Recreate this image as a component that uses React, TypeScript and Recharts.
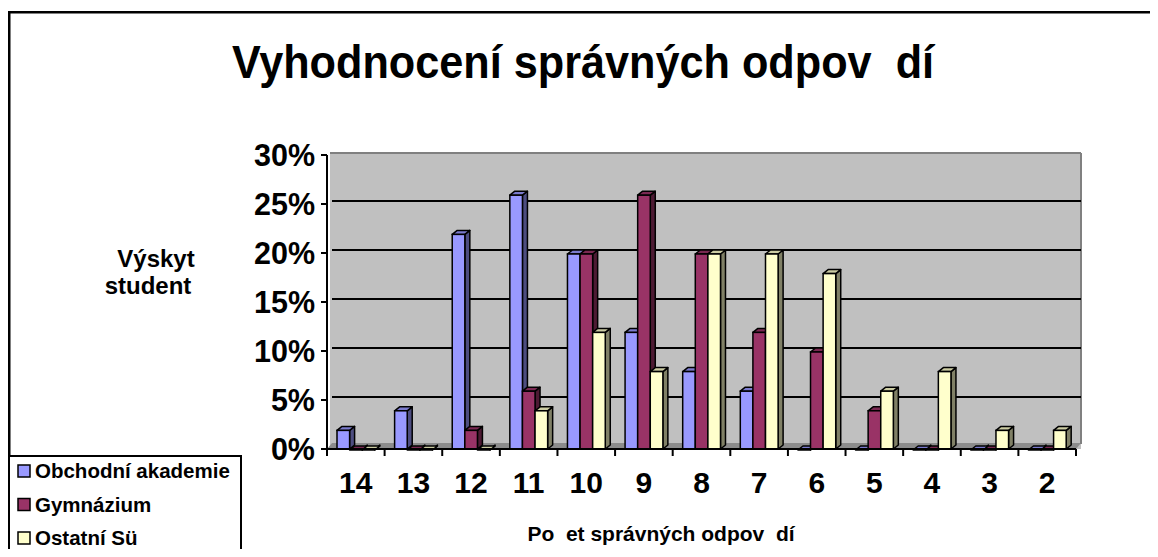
import React from 'react';
import { BarChart, Bar, XAxis, YAxis, CartesianGrid } from 'recharts';

const categories = ['14', '13', '12', '11', '10', '9', '8', '7', '6', '5', '4', '3', '2'];
const obchodniAkademie = [2, 4, 22, 26, 20, 12, 8, 6, 0, 0, 0, 0, 0];
const gymnazium = [0, 0, 2, 6, 20, 26, 20, 12, 10, 4, 0, 0, 0];
const ostatniSu = [0, 0, 0, 4, 12, 8, 20, 20, 18, 6, 8, 2, 2];
const yTicks = [0, 5, 10, 15, 20, 25, 30];

const seriesNames = ['Obchodní akademie', 'Gymnázium', 'Ostatní Sü'];
const seriesKeys = ['oa', 'gym', 'ost'];
const fronts = ['#9999FF', '#993366', '#FFFFCC'];
const sides = ['#4D4D80', '#4D1A33', '#808066'];
const tops = ['#7A7ACC', '#7A2952', '#CCCCA3'];

const title = 'Vyhodnocení správných odpov  dí';
const yLabel1 = 'Výskyt';
const yLabel2 = 'student';
const xLabel = 'Po  et správných odpov  dí';

const data = categories.map((c, i) => ({
  cat: c,
  oa: obchodniAkademie[i],
  gym: gymnazium[i],
  ost: ostatniSu[i],
}));

const W = 1158;
const H = 557;
const PLOT_L = 327;
const PLOT_R = 1076;
const PLOT_T = 155;
const PLOT_B = 449;
const DX = 5;
const DY = 4;
const BAND = (PLOT_R - PLOT_L) / categories.length;
const FONT = '"Liberation Sans", Arial, sans-serif';

const make3DBar = (idx: number) => (props: any) => {
  const { x, y, width, height } = props;
  if (x == null || y == null) return <g />;
  const w = width;
  const bottom = y + height;
  const ft = y + 1;
  const bt = y - 3;
  return (
    <g>
      <polygon
        points={`${x + w},${ft} ${x + w + DX},${bt} ${x + w + DX},${bottom - DY} ${x + w},${bottom}`}
        fill={sides[idx]}
        stroke="#000"
        strokeWidth={1.5}
        strokeLinejoin="round"
      />
      <polygon
        points={`${x},${ft} ${x + DX},${bt} ${x + w + DX},${bt} ${x + w},${ft}`}
        fill={tops[idx]}
        stroke="#000"
        strokeWidth={1.5}
        strokeLinejoin="round"
      />
      <rect x={x} y={ft} width={w} height={Math.max(0, bottom - ft)} fill={fronts[idx]} stroke="#000" strokeWidth={1.5} />
    </g>
  );
};

const XTick = (props: any) => {
  const { x, payload } = props;
  const left = x - BAND / 2;
  const isLast = payload && payload.value === categories[categories.length - 1];
  return (
    <g>
      <line x1={left} x2={left} y1={PLOT_B} y2={PLOT_B + 7} stroke="#000" strokeWidth={2} />
      {isLast && <line x1={x + BAND / 2} x2={x + BAND / 2} y1={PLOT_B} y2={PLOT_B + 7} stroke="#000" strokeWidth={2} />}
      <text x={x} y={PLOT_B + 44} textAnchor="middle" fontFamily={FONT} fontWeight="bold" fontSize={30} fill="#000">
        {payload.value}
      </text>
    </g>
  );
};

const gridLine = (props: any) => {
  const { x1, x2, y1 } = props;
  if (Math.abs(y1 - PLOT_T) < 1 || Math.abs(y1 - PLOT_B) < 1) return <g key={props.key} />;
  return <line key={props.key} x1={x1 + DX} x2={x2 + DX} y1={y1 - 3} y2={y1 - 3} stroke="#000" strokeWidth={2} />;
};

export default function App() {
  return (
    <div style={{ position: 'relative', margin: -8, width: W, height: H, background: '#fff', overflow: 'hidden' }}>
      <svg width={W} height={H} style={{ position: 'absolute', left: 0, top: 0 }}>
        <rect x={PLOT_L + 3} y={PLOT_T - 2} width={PLOT_R + DX - PLOT_L - 3} height={PLOT_B - PLOT_T + 2} fill="#C0C0C0" />
        <polygon
          points={`${PLOT_L},${PLOT_B} ${PLOT_L + DX},${PLOT_B - 6} ${PLOT_R + DX},${PLOT_B - 6} ${PLOT_R},${PLOT_B}`}
          fill="#8C8C8C"
        />
        <line x1={PLOT_L + 3} x2={PLOT_R + DX} y1={PLOT_T - 2} y2={PLOT_T - 2} stroke="#808080" strokeWidth={2} />
        <line x1={PLOT_R + DX} x2={PLOT_R + DX} y1={PLOT_T - 2} y2={PLOT_B - 5} stroke="#808080" strokeWidth={2} />
      </svg>
      <div style={{ position: 'absolute', left: 0, top: 0 }}>
        <BarChart
          width={W}
          height={H}
          data={data}
          margin={{ top: PLOT_T, right: W - PLOT_R, bottom: H - PLOT_B - 60, left: PLOT_L - 80 }}
          barGap={0}
          barSize={12.6}
        >
          <CartesianGrid vertical={false} horizontal={gridLine as any} fill="none" />
          <XAxis
            dataKey="cat"
            interval={0}
            height={60}
            tickLine={false}
            tickSize={0}
            axisLine={{ stroke: '#000', strokeWidth: 2 }}
            tick={<XTick />}
          />
          <YAxis
            width={80}
            domain={[0, 30]}
            ticks={yTicks}
            interval={0}
            tickFormatter={(v: number) => `${v}%`}
            tickSize={6}
            tickMargin={6}
            tickLine={{ stroke: '#000', strokeWidth: 2 }}
            axisLine={{ stroke: '#000', strokeWidth: 2 }}
            tick={{ fontFamily: FONT, fontWeight: 'bold', fontSize: 30.5, fill: '#000' }}
          />
          {seriesKeys.map((k, i) => (
            <Bar key={k} dataKey={k} name={seriesNames[i]} fill={fronts[i]} isAnimationActive={false} shape={make3DBar(i)} />
          ))}
        </BarChart>
      </div>
      <svg width={W} height={H} style={{ position: 'absolute', left: 0, top: 0, pointerEvents: 'none' }}>
        <rect x={9.25} y={12.25} width={1300} height={700} fill="none" stroke="#000" strokeWidth={2.5} />
        <text
          transform="translate(583,78) scale(0.94,1)"
          x={0}
          y={0}
          textAnchor="middle"
          fontFamily={FONT}
          fontWeight="bold"
          fontSize={46}
          fill="#000"
          style={{ whiteSpace: 'pre' }}
        >
          {title}
        </text>
        <text x={156} y={267} textAnchor="middle" fontFamily={FONT} fontWeight="bold" fontSize={24} fill="#000">
          {yLabel1}
        </text>
        <text x={148} y={294} textAnchor="middle" fontFamily={FONT} fontWeight="bold" fontSize={24} fill="#000">
          {yLabel2}
        </text>
        <text x={661} y={541} textAnchor="middle" fontFamily={FONT} fontWeight="bold" fontSize={21} fill="#000" style={{ whiteSpace: 'pre' }}>
          {xLabel}
        </text>
        <rect x={9} y={456} width={232} height={96} fill="#fff" stroke="#000" strokeWidth={2} />
        {seriesNames.map((n, i) => {
          const cy = 471 + i * 33.5;
          return (
            <g key={n}>
              <rect x={18} y={cy - 6} width={12} height={12} fill={fronts[i]} stroke="#000" strokeWidth={1.5} />
              <text x={35} y={cy + 7} fontFamily={FONT} fontWeight="bold" fontSize={20.5} fill="#000">
                {n}
              </text>
            </g>
          );
        })}
      </svg>
    </div>
  );
}
